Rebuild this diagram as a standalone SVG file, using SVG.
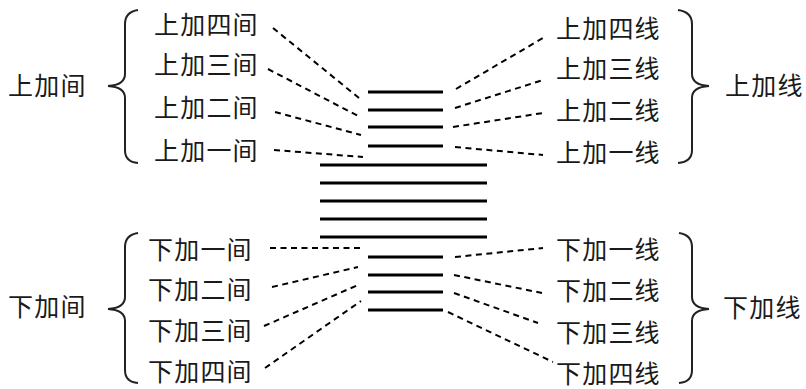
<svg xmlns="http://www.w3.org/2000/svg" width="806" height="389" viewBox="0 0 806 389">
<style>
text{font-family:"Noto Sans CJK SC","Noto Sans CJK JP",sans-serif;font-size:25px;fill:#1a1a1a;letter-spacing:1.2px}
.staff{stroke:#000;stroke-width:3;fill:none}
.dash{stroke:#000;stroke-width:2;stroke-dasharray:6 4.5;fill:none}
.brace{stroke:#222;stroke-width:2;fill:none}
</style>
<rect width="806" height="389" fill="#fff"/>
<g id="staff">
<line class="staff" x1="320" y1="165" x2="487" y2="165"/>
<line class="staff" x1="320" y1="183" x2="487" y2="183"/>
<line class="staff" x1="320" y1="201" x2="487" y2="201"/>
<line class="staff" x1="320" y1="219" x2="487" y2="219"/>
<line class="staff" x1="320" y1="237" x2="487" y2="237"/>
</g>
<g id="upper-ledger">
<line class="staff" x1="368" y1="92" x2="443" y2="92"/>
<line class="staff" x1="368" y1="110" x2="443" y2="110"/>
<line class="staff" x1="368" y1="127" x2="443" y2="127"/>
<line class="staff" x1="368" y1="146" x2="443" y2="146"/>
</g>
<g id="lower-ledger">
<line class="staff" x1="368" y1="257" x2="443" y2="257"/>
<line class="staff" x1="368" y1="275" x2="443" y2="275"/>
<line class="staff" x1="368" y1="292" x2="443" y2="292"/>
<line class="staff" x1="368" y1="310" x2="443" y2="310"/>
</g>
<g id="connectors">
<line class="dash" x1="273" y1="28" x2="359" y2="98"/>
<line class="dash" x1="268" y1="69" x2="360" y2="117"/>
<line class="dash" x1="275" y1="112" x2="361" y2="135"/>
<line class="dash" x1="274" y1="150" x2="363" y2="157"/>
<line class="dash" x1="456" y1="89" x2="543" y2="38"/>
<line class="dash" x1="455" y1="108" x2="543" y2="80"/>
<line class="dash" x1="453" y1="127" x2="543" y2="113"/>
<line class="dash" x1="455" y1="147" x2="543" y2="155"/>
<line class="dash" x1="270" y1="248" x2="360" y2="248"/>
<line class="dash" x1="272" y1="287" x2="358" y2="267"/>
<line class="dash" x1="264" y1="326" x2="358" y2="285"/>
<line class="dash" x1="265" y1="368" x2="361" y2="301"/>
<line class="dash" x1="455" y1="257" x2="543" y2="248"/>
<line class="dash" x1="454" y1="275" x2="542" y2="293"/>
<line class="dash" x1="454" y1="293" x2="538" y2="323"/>
<line class="dash" x1="448" y1="312" x2="553" y2="362"/>
</g>
<g id="braces">
<path class="brace" d="M138,10 Q125,12 125,24 L125,74 Q125,85 108,86 Q125,87 125,98 L125,150 Q125,162 138,163"/>
<path class="brace" d="M678,10 Q692,12 692,24 L692,74 Q692,85 709,86 Q692,87 692,98 L692,150 Q692,162 678,163"/>
<path class="brace" d="M138,233 Q125,235 125,247 L125,297 Q125,308 108,309 Q125,310 125,321 L125,370 Q125,382 138,383"/>
<path class="brace" d="M679,233 Q692,235 692,247 L692,297 Q692,308 709,309 Q692,310 692,321 L692,370 Q692,382 679,383"/>
</g>
<g id="upper-spaces">
<text x="8" y="95">上加间</text>
<text x="154" y="34">上加四间</text>
<text x="154" y="74">上加三间</text>
<text x="154" y="117">上加二间</text>
<text x="154" y="160">上加一间</text>
</g>
<g id="upper-lines">
<text x="725" y="95">上加线</text>
<text x="556" y="38">上加四线</text>
<text x="556" y="78">上加三线</text>
<text x="556" y="120">上加二线</text>
<text x="556" y="162">上加一线</text>
</g>
<g id="lower-spaces">
<text x="8" y="316">下加间</text>
<text x="148" y="259">下加一间</text>
<text x="148" y="299">下加二间</text>
<text x="148" y="340">下加三间</text>
<text x="148" y="381">下加四间</text>
</g>
<g id="lower-lines">
<text x="723" y="317">下加线</text>
<text x="556" y="259">下加一线</text>
<text x="556" y="300">下加二线</text>
<text x="556" y="342">下加三线</text>
<text x="556" y="383">下加四线</text>
</g>
</svg>
